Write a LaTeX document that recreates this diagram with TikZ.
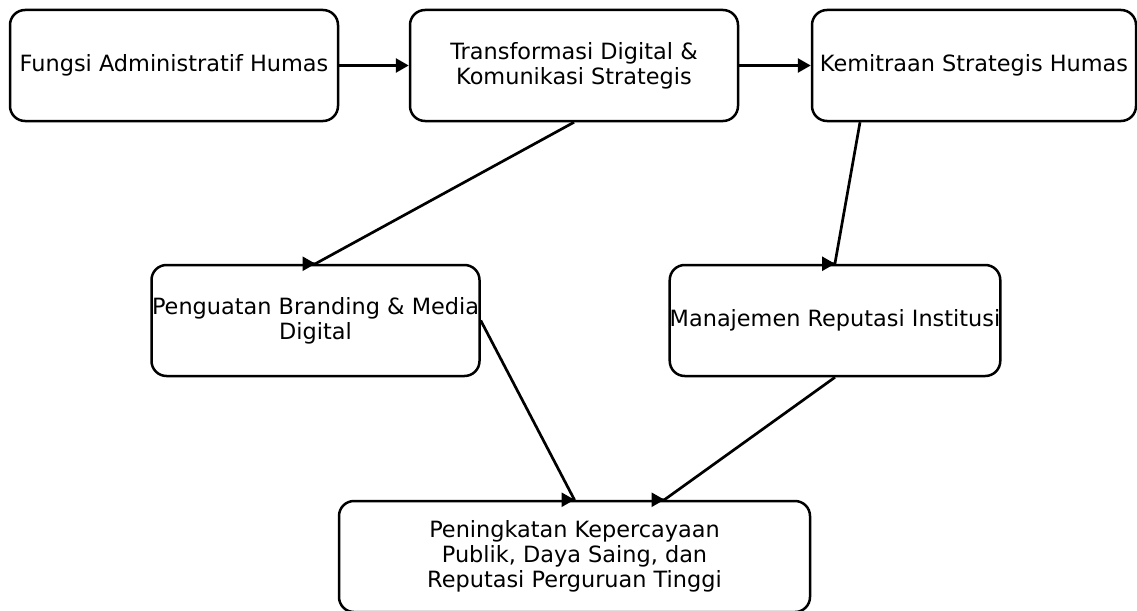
\documentclass[tikz,border=0pt]{standalone}
\usepackage{fontspec}
\setmainfont{DejaVu Sans}
\usepackage{tikz}
\usetikzlibrary{shapes,arrows.meta,positioning}
\tikzstyle{block} = [rectangle, draw, line width=2.5pt, rounded corners=15pt,
    minimum width=328pt, minimum height=111pt, inner sep=0pt, align=center,
    font=\fontsize{22.4}{25}\selectfont]
\tikzstyle{line} = [draw, line width=2.7pt, line join=round,
    -{Triangle[length=13pt,width=14pt]}]

\begin{document}
\begin{tikzpicture}[x=1pt, y=-1pt, node distance = 400pt, auto]
    \clip (0,0) rectangle (1137,610);
    % Place nodes
    \node [block] (admin) at (174,65.5) {Fungsi Administratif Humas};
    \node [block, right of=admin] (digital) {Transformasi Digital \&\\Komunikasi Strategis};
    \node [block, right of=digital, minimum width=324pt] (mitra) {Kemitraan Strategis Humas};
    \node [block] (branding) at (315.5,320.5) {Penguatan Branding \& Media\\Digital};
    \node [block] (reputasi) at (835,320.5) {Manajemen Reputasi Institusi};
    \node [block, minimum width=471pt] (publik) at (574.5,556.5) {Peningkatan Kepercayaan\\Publik, Daya Saing, dan\\Reputasi Perguruan Tinggi};
    % Draw edges
    \path [line] (admin) -- (digital);
    \path [line] (digital) -- (mitra);
    \path [line] (digital.south) -- ([xshift=-0.1pt]branding.north) -- (branding.north);
    \path [line] ([xshift=-114pt]mitra.south) -- ([xshift=-0.1pt]reputasi.north) -- (reputasi.north);
    \path [line] (branding.east) -- ([xshift=-0.1pt]publik.north) -- (publik.north);
    \path [line] (reputasi.south) -- ([xshift=89.9pt]publik.north) -- ([xshift=90pt]publik.north);
\end{tikzpicture}
\end{document}
